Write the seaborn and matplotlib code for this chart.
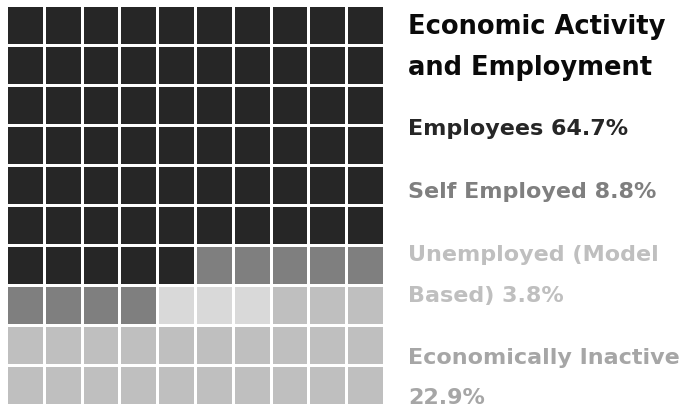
import numpy as np
import matplotlib
matplotlib.use("Agg")
import matplotlib.pyplot as plt
from matplotlib.colors import ListedColormap
import seaborn as sns

categories = ["Employees", "Self Employed", "Unemployed (Model Based)", "Economically Inactive"]
percent_labels = ["64.7%", "8.8%", "3.8%", "22.9%"]
cell_counts = [65, 9, 3, 23]
label_lines = [["Employees 64.7%"], ["Self Employed 8.8%"], ["Unemployed (Model", "Based) 3.8%"], ["Economically Inactive", "22.9%"]]

cell_colors = ["#262626", "#7f7f7f", "#d9d9d9", "#bfbfbf"]
text_colors = ["#262626", "#7f7f7f", "#bfbfbf", "#a6a6a6"]

sns.set_theme(style="white")
plt.rcParams["font.family"] = ["DejaVu Sans"]

flat = np.repeat(np.arange(len(cell_counts)), cell_counts)
grid = flat.reshape(10, 10)

fig = plt.figure(figsize=(6.97, 4.11), dpi=100)
ax = fig.add_axes([6 / 697, 6 / 411, 378 / 697, 400 / 411])
sns.heatmap(grid, ax=ax, cmap=ListedColormap(cell_colors), vmin=-0.5, vmax=3.5,
            cbar=False, linewidths=2, linecolor="white",
            xticklabels=False, yticklabels=False)

W, H = 697, 411
x0 = 408 / W
fig.text(x0, 1 - 27 / H, "Economic Activity", fontsize=18.5, fontweight="bold", color="#0a0a0a", va="center", ha="left")
fig.text(x0, 1 - 68 / H, "and Employment", fontsize=18.5, fontweight="bold", color="#0a0a0a", va="center", ha="left")

ypos = [[129], [192], [255, 296], [358, 398]]
for lines, ys, c in zip(label_lines, ypos, text_colors):
    for t, y in zip(lines, ys):
        fig.text(x0, 1 - y / H, t, fontsize=16, fontweight="bold", color=c, va="center", ha="left")

fig.savefig("out.png", dpi=100)
